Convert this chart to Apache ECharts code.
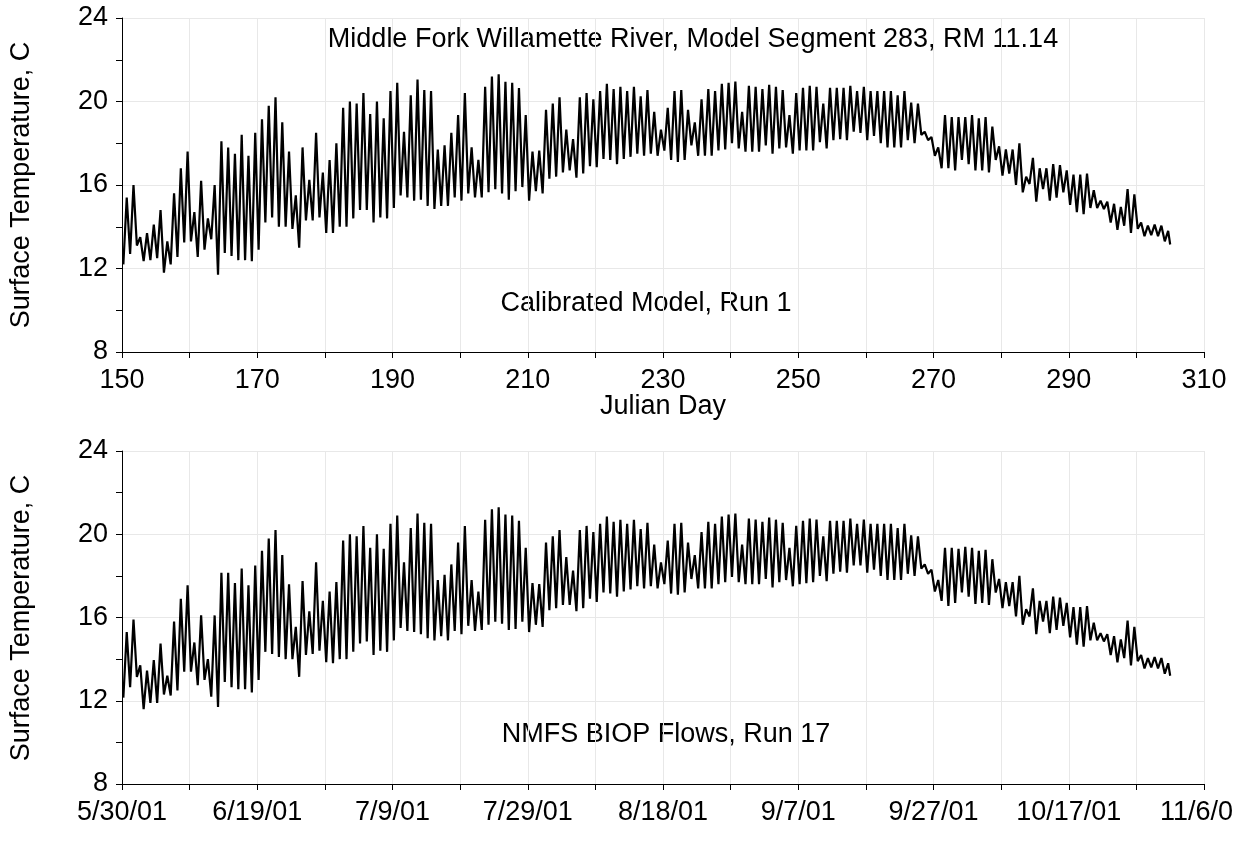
<!DOCTYPE html>
<html>
<head>
<meta charset="utf-8">
<script src="https://cdn.jsdelivr.net/npm/echarts@6/dist/echarts.min.js"></script>
<style>
  html, body { margin: 0; padding: 0; background: #fff; }
  #chart { width: 1235px; height: 848px; }
</style>
</head>
<body>
<div id="chart"></div>
<script>
"use strict";
/* Middle Fork Willamette, segment 283: daily min / max surface temperature,
   two model runs. One trough + one peak per day. */
const firstDay = 150;          // Julian day 150 = 5/30/01
const lastDay = 305;           // series end

// Run 1 (calibrated model), days 150..304
const run1Min = [
  12.2, 12.7, 13.1, 12.35, 12.4, 12.5, 11.8, 12.2, 12.55, 13.25,
  13.3, 12.55, 12.9, 13.4, 11.7, 12.75, 12.6, 12.4, 12.4, 12.35,
  12.9, 14.2, 14.45, 14.0, 14.0, 13.9, 13.0, 14.3, 14.3, 14.45,
  13.7, 13.7, 14.0, 14.0, 14.4, 14.8, 14.8, 14.2, 14.45, 14.4,
  14.9, 15.5, 15.4, 15.25, 15.3, 15.0, 14.85, 15.0, 15.0, 15.4,
  15.25, 15.6, 15.4, 15.4, 15.65, 15.8, 15.6, 15.3, 15.7, 15.9,
  15.25, 15.7, 15.6, 16.3, 16.4, 16.6, 16.7, 16.35, 16.55, 16.9,
  16.85, 17.25, 17.2, 17.0, 17.25, 17.35, 17.5, 17.4, 17.5, 17.4,
  17.65, 17.2, 17.1, 17.2, 17.9, 17.4, 17.4, 17.4, 17.65, 17.7,
  18.0, 17.75, 17.6, 17.6, 17.6, 17.9, 17.5, 17.75, 17.8, 17.5,
  17.65, 17.65, 17.65, 18.05, 17.75, 18.15, 18.2, 18.15, 18.55, 18.5,
  18.15, 18.35, 18.0, 17.8, 17.8, 17.8, 18.15, 18.0, 18.4, 18.15,
  17.4, 16.8, 16.8, 16.7, 17.2, 17.0, 16.7, 16.7, 16.6, 17.2,
  16.45, 16.55, 16.0, 15.65, 16.05, 15.2, 15.8, 15.25, 15.4, 15.65,
  15.05, 14.7, 14.6, 14.9, 14.9, 14.85, 14.2, 13.85, 14.05, 13.7,
  13.9, 13.55, 13.6, 13.55, 13.3
];
const run1Max = [
  15.4, 16.0, 13.5, 13.7, 14.1, 14.8, 13.3, 15.6, 16.8, 17.6,
  14.7, 16.2, 14.4, 16.0, 18.1, 17.8, 17.5, 18.4, 17.4, 18.5,
  19.15, 19.8, 20.2, 19.0, 17.6, 15.5, 17.8, 16.25, 18.5, 16.6,
  17.2, 18.0, 19.7, 20.0, 19.9, 20.4, 19.4, 20.0, 19.2, 20.5,
  20.9, 18.55, 20.3, 21.05, 20.55, 20.5, 17.7, 17.9, 18.5, 19.35,
  20.4, 17.8, 17.2, 20.7, 21.2, 21.3, 20.95, 20.9, 20.65, 19.35,
  17.6, 17.65, 19.6, 19.9, 20.2, 18.65, 18.2, 20.2, 20.4, 20.1,
  20.5, 20.85, 20.6, 20.7, 20.5, 20.7, 20.25, 20.55, 19.5, 18.65,
  19.7, 20.5, 20.55, 19.6, 19.0, 20.1, 20.6, 20.5, 20.85, 20.9,
  20.95, 19.5, 20.75, 20.7, 20.6, 20.8, 20.7, 20.55, 19.35, 20.4,
  20.65, 20.75, 20.7, 19.9, 20.65, 20.65, 20.65, 20.75, 20.5, 20.7,
  20.5, 20.5, 20.5, 20.5, 20.3, 20.5, 19.95, 19.9, 18.55, 18.3,
  17.8, 19.35, 19.25, 19.25, 19.25, 19.35, 19.2, 19.25, 18.8, 17.85,
  17.7, 17.7, 18.0, 16.4, 17.3, 16.8, 16.8, 17.0, 16.95, 16.7,
  16.5, 16.5, 16.55, 15.75, 15.25, 15.2, 15.1, 14.95, 15.8, 15.55,
  14.2, 14.05, 14.1, 14.05, 13.8
];
const run1End = 13.15;

// Run 17 (NMFS BIOP flows), days 150..304
const run17Min = [
  12.15, 12.65, 13.15, 11.6, 11.9, 11.9, 12.3, 12.25, 12.5, 13.4,
  13.4, 12.75, 13.0, 12.2, 11.7, 12.9, 12.65, 12.55, 12.55, 12.4,
  13.0, 14.35, 14.25, 14.1, 14.0, 14.0, 13.15, 14.2, 14.25, 14.4,
  13.85, 13.8, 14.0, 14.0, 14.35, 14.75, 14.85, 14.2, 14.4, 14.35,
  14.9, 15.5, 15.35, 15.3, 15.2, 15.0, 14.9, 15.1, 14.9, 15.35,
  15.2, 15.6, 15.35, 15.4, 15.65, 15.8, 15.7, 15.4, 15.45, 15.8,
  15.3, 15.65, 15.55, 16.35, 16.45, 16.6, 16.6, 16.3, 16.45, 16.9,
  16.75, 17.2, 17.15, 17.0, 17.25, 17.35, 17.5, 17.4, 17.5, 17.4,
  17.6, 17.15, 17.1, 17.2, 17.85, 17.4, 17.4, 17.4, 17.6, 17.7,
  17.95, 17.7, 17.6, 17.6, 17.6, 17.85, 17.45, 17.7, 17.8, 17.5,
  17.6, 17.65, 17.7, 18.0, 17.75, 18.1, 18.2, 18.15, 18.5, 18.5,
  18.15, 18.3, 18.0, 17.8, 17.8, 17.8, 18.1, 18.0, 18.35, 18.1,
  17.25, 16.8, 16.55, 16.7, 17.2, 17.0, 16.65, 16.7, 16.6, 17.2,
  16.45, 16.55, 16.05, 15.65, 16.05, 15.2, 15.8, 15.25, 15.4, 15.6,
  15.05, 14.7, 14.6, 14.9, 14.9, 14.85, 14.2, 13.85, 14.05, 13.7,
  13.9, 13.55, 13.6, 13.55, 13.3
];
const run17Max = [
  15.3, 15.9, 13.7, 13.45, 13.95, 14.75, 13.2, 15.8, 16.9, 17.55,
  14.8, 16.1, 14.0, 16.1, 18.15, 18.15, 17.65, 18.35, 17.55, 18.5,
  19.2, 19.8, 20.2, 19.0, 17.6, 15.55, 17.75, 16.3, 18.65, 16.8,
  17.25, 17.7, 19.7, 20.0, 19.9, 20.4, 19.35, 20.0, 19.3, 20.5,
  20.9, 18.65, 20.3, 21.0, 20.55, 20.5, 17.8, 18.05, 18.55, 19.6,
  20.4, 17.8, 17.25, 20.7, 21.2, 21.3, 20.95, 20.9, 20.65, 19.35,
  17.65, 17.6, 19.6, 19.9, 20.2, 18.9, 18.25, 20.2, 20.4, 20.1,
  20.5, 20.85, 20.6, 20.7, 20.5, 20.7, 20.25, 20.55, 19.5, 18.65,
  19.7, 20.5, 20.55, 19.6, 19.0, 20.1, 20.6, 20.5, 20.85, 20.95,
  21.0, 19.5, 20.75, 20.7, 20.6, 20.8, 20.7, 20.55, 19.35, 20.4,
  20.65, 20.75, 20.7, 19.9, 20.65, 20.65, 20.65, 20.75, 20.5, 20.7,
  20.5, 20.5, 20.5, 20.5, 20.3, 20.5, 19.95, 19.9, 18.55, 18.3,
  17.8, 19.35, 19.35, 19.3, 19.4, 19.35, 19.2, 19.25, 18.8, 17.85,
  17.7, 17.7, 18.0, 16.4, 17.4, 16.8, 16.8, 17.0, 16.95, 16.7,
  16.5, 16.5, 16.55, 15.75, 15.25, 15.2, 15.1, 14.95, 15.85, 15.55,
  14.2, 14.05, 14.1, 14.05, 13.8
];
const run17End = 13.2;

const panelNotes = ["Calibrated Model, Run 1", "NMFS BIOP Flows, Run 17"];
const chartTitle = "Middle Fork Willamette River, Model Segment 283, RM 11.14";
const yName = "Surface Temperature, C";
const xName = "Julian Day";

// trough early in the day, peak in the afternoon
function daySeries(mins, maxs, endVal) {
  const pts = [];
  mins.forEach((lo, i) => {
    pts.push([firstDay + i + 0.2, lo]);
    pts.push([firstDay + i + 0.7, maxs[i]]);
  });
  pts.push([lastDay, endVal]);
  return pts;
}

const FONT = "'Liberation Sans', Arial, sans-serif";
const txt = {color: "#000", fontFamily: FONT, fontSize: 27};
const gridLine = {show: true, lineStyle: {color: "#e8e8e8", width: 1}};

const dateLabel = (v) => {
  const d = new Date(2001, 0, v);
  return (d.getMonth() + 1) + "/" + d.getDate() + "/01";
};

function xAxis(gridIndex, fmt) {
  return {
    type: "value", gridIndex, min: 150, max: 310, interval: 10,
    axisLine: {lineStyle: {color: "#000", width: 1}},
    axisTick: {length: 6, lineStyle: {color: "#000"}},
    axisLabel: Object.assign({}, txt, {
      margin: 15, showMaxLabel: true, hideOverlap: false,
      formatter: (v) => ((v - 150) % 20 === 0 ? fmt(v) : "")}),
    splitLine: gridLine,
  };
}
function yAxis(gridIndex) {
  return {
    type: "value", gridIndex, min: 8, max: 24, interval: 4,
    axisLine: {show: true, lineStyle: {color: "#000", width: 1}},
    axisTick: {show: true, length: 6, lineStyle: {color: "#000"}},
    minorTick: {show: true, splitNumber: 2, length: 6, lineStyle: {color: "#000"}},
    axisLabel: Object.assign({}, txt, {margin: 14}),
    splitLine: gridLine,
  };
}
const lineSeries = (idx, data) => ({
  type: "line", xAxisIndex: idx, yAxisIndex: idx, data,
  showSymbol: false, symbol: "none", animation: false,
  lineStyle: {color: "#000", width: 2.2}, z: 5,
});

const chart = echarts.init(document.getElementById("chart"), null, {renderer: "canvas"});
chart.setOption({
  backgroundColor: "#fff",
  animation: false,
  grid: [
    {left: 122, right: 31, top: 18, height: 334, outerBoundsMode: "none", containLabel: false},
    {left: 122, right: 31, top: 451, height: 333, outerBoundsMode: "none", containLabel: false},
  ],
  xAxis: [xAxis(0, (v) => String(v)), xAxis(1, dateLabel)],
  yAxis: [yAxis(0), yAxis(1)],
  series: [
    lineSeries(0, daySeries(run1Min, run1Max, run1End)),
    lineSeries(1, daySeries(run17Min, run17Max, run17End)),
  ],
  graphic: [
    {type: "text", x: 693, y: 40, style: Object.assign({text: chartTitle, align: "center", verticalAlign: "middle"}, txt)},
    {type: "text", x: 646, y: 304, style: Object.assign({text: panelNotes[0], align: "center", verticalAlign: "middle"}, txt)},
    {type: "text", x: 666, y: 735, style: Object.assign({text: panelNotes[1], align: "center", verticalAlign: "middle"}, txt)},
    {type: "text", x: 663, y: 407, style: Object.assign({text: xName, align: "center", verticalAlign: "middle"}, txt)},
    {type: "text", x: 22, y: 185, rotation: Math.PI / 2, style: Object.assign({text: yName, align: "center", verticalAlign: "middle"}, txt)},
    {type: "text", x: 22, y: 618, rotation: Math.PI / 2, style: Object.assign({text: yName, align: "center", verticalAlign: "middle"}, txt)},
  ],
});
</script>
</body>
</html>
